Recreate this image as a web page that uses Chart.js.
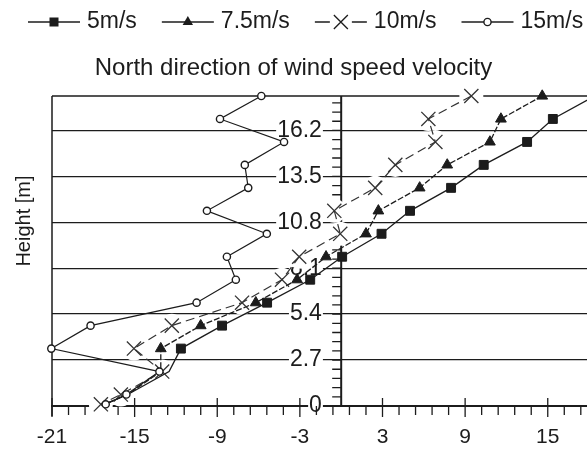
<!DOCTYPE html>
<html><head><meta charset="utf-8">
<script src="https://cdn.jsdelivr.net/npm/chart.js@4.4.1/dist/chart.umd.min.js"></script>
<style>html,body{margin:0;padding:0;background:#fff;overflow:hidden}#wrap{width:587px;height:451px}</style>
</head><body><div id="wrap"><canvas id="c" width="587" height="451"></canvas></div>
<script>
// ---- data ----
const heights = [18.225, 16.875, 15.525, 14.175, 12.825, 11.475, 10.125, 8.775, 7.425, 6.075, 4.725, 3.375, 2.025, 0.675, 0.1];
const v5  = [18.4, 15.37, 13.5, 10.35, 7.98, 5.0, 2.93, 0.07, -2.25, -5.38, -8.65, -11.64, -12.5, -15.5, -17.2];
const v75 = [14.6, 11.6, 10.8, 7.7, 5.7, 2.7, 1.8, -1.1, -3.2, -6.2, -10.2, -13.1, -13.1, -15.5, -17.2];
const v10 = [9.45, 6.33, 6.84, 3.93, 2.47, -0.5, -0.07, -3.05, -4.3, -7.2, -12.3, -15.05, -13.0, -16.0, -17.45];
const v15 = [-5.8, -8.8, -4.15, -7.0, -6.75, -9.75, -5.4, -8.3, -7.65, -10.5, -18.2, -21.05, -13.2, -15.6, -17.1];
const seriesNames = ['5m/s', '7.5m/s', '10m/s', '15m/s'];
const titleText = 'North direction of wind speed velocity';
const yTitle = 'Height [m]';
const xTicks = [-21, -15, -9, -3, 3, 9, 15];
const xTickLabels = ['-21', '-15', '-9', '-3', '3', '9', '15'];
const yTicks = [0, 2.7, 5.4, 8.1, 10.8, 13.5, 16.2];
const yTickLabels = ['0', '2.7', '5.4', '8.1', '10.8', '13.5', '16.2'];

const FONT = "'Liberation Sans', Arial, Helvetica, sans-serif";
const INK = '#1c1c1c';
const mk = (xs) => heights.map((h, i) => ({x: xs[i], y: h}));
const hideLast3 = (r) => heights.map((h, i) => i >= heights.length - 3 ? 0 : r);

const frame = {
  id: 'frame',
  beforeDatasetsDraw(chart) {
    const {ctx, chartArea: a, scales: {x, y}} = chart;
    const x0 = x.getPixelForValue(0);
    ctx.save();
    ctx.strokeStyle = INK;
    ctx.lineWidth = 1.5;
    ctx.beginPath();
    ctx.moveTo(a.left, a.top); ctx.lineTo(a.right, a.top);
    ctx.moveTo(a.left, a.top); ctx.lineTo(a.left, a.bottom + 10);
    ctx.stroke();
    ctx.lineWidth = 2;
    ctx.beginPath();
    ctx.moveTo(x0, a.top); ctx.lineTo(x0, a.bottom);
    ctx.stroke();
    ctx.lineWidth = 1.3;
    ctx.beginPath();
    for (let k = 0; k <= 33; k++) {
      const v = -21 + k * 1.2;
      const px = x.getPixelForValue(v);
      if (px > a.right) break;
      ctx.moveTo(px, a.bottom); ctx.lineTo(px, a.bottom + 9);
    }
    xTicks.forEach(v => {
      const px = x.getPixelForValue(v);
      ctx.moveTo(px, a.bottom - 8); ctx.lineTo(px, a.bottom + 11);
    });
    for (let k = 0; k <= 34; k++) {
      const v = k * 0.54;
      const py = y.getPixelForValue(v);
      if (py < a.top) break;
      ctx.moveTo(x0, py); ctx.lineTo(x0 - 9, py);
    }
    ctx.stroke();
    ctx.restore();
  },
  afterDraw(chart) {
    const ctx = chart.ctx;
    const ds = chart.data.datasets;
    const order = [3, 2, 1, 0];
    const ly = 22;
    let cx = 28;
    ctx.save();
    // y axis title
    ctx.font = '20px ' + FONT;
    ctx.fillStyle = INK;
    ctx.textAlign = 'center';
    ctx.textBaseline = 'middle';
    ctx.translate(24, 221);
    ctx.rotate(-Math.PI / 2);
    ctx.fillText(yTitle, 0, 0);
    ctx.setTransform(1, 0, 0, 1, 0, 0);
    // legend
    ctx.font = '23px ' + FONT;
    ctx.textBaseline = 'middle';
    order.forEach((di, n) => {
      const d = ds[di];
      const L = 52, mid = cx + L / 2;
      ctx.strokeStyle = INK; ctx.lineWidth = 1.3;
      ctx.beginPath();
      if (d.pointStyle === 'crossRot') {
        ctx.moveTo(cx, ly); ctx.lineTo(mid - 11, ly);
        ctx.moveTo(mid + 11, ly); ctx.lineTo(cx + L, ly);
      } else {
        ctx.moveTo(cx, ly); ctx.lineTo(cx + L, ly);
      }
      ctx.stroke();
      ctx.beginPath();
      if (d.pointStyle === 'rect') {
        ctx.fillRect(mid - 4.5, ly - 4.5, 9, 9);
      } else if (d.pointStyle === 'triangle') {
        ctx.moveTo(mid, ly - 6); ctx.lineTo(mid + 5.2, ly + 3); ctx.lineTo(mid - 5.2, ly + 3); ctx.closePath(); ctx.fill();
      } else if (d.pointStyle === 'crossRot') {
        ctx.moveTo(mid - 7, ly - 7); ctx.lineTo(mid + 7, ly + 7);
        ctx.moveTo(mid + 7, ly - 7); ctx.lineTo(mid - 7, ly + 7);
        ctx.stroke();
      } else {
        ctx.fillStyle = '#fff';
        ctx.arc(mid, ly, 3.6, 0, Math.PI * 2); ctx.fill(); ctx.lineWidth = 1.4; ctx.stroke();
      }
      ctx.fillStyle = INK;
      ctx.textAlign = 'left';
      const tx = cx + L + 7;
      ctx.fillText(seriesNames[n], tx, ly);
      cx = tx + ctx.measureText(seriesNames[n]).width + 25;
    });
    ctx.restore();
  }
};

new Chart(document.getElementById('c'), {
  type: 'line',
  data: {
    datasets: [
      {label: seriesNames[3], data: mk(v15), borderColor: INK, borderWidth: 1.2, pointStyle: 'circle', pointRadius: 3.6,
       pointBorderWidth: 1.4, pointBackgroundColor: '#fff', pointBorderColor: INK, clip: false, yAxisID: 'y'},
      {label: seriesNames[2], data: mk(v10), borderColor: '#333', borderWidth: 1.2, borderDash: [9, 5], pointStyle: 'crossRot',
       pointRadius: 10, pointBorderWidth: 1.3, pointBorderColor: '#333', pointBackgroundColor: '#333', clip: false, yAxisID: 'y'},
      {label: seriesNames[1], data: mk(v75), borderColor: INK, borderWidth: 1.3, borderDash: [6, 2], pointStyle: 'triangle',
       pointRadius: hideLast3(6.2), pointBorderWidth: 1, pointBackgroundColor: INK, pointBorderColor: INK, clip: false, yAxisID: 'y'},
      {label: seriesNames[0], data: mk(v5), borderColor: INK, borderWidth: 1.3, pointStyle: 'rect',
       pointRadius: hideLast3(6.3), pointBorderWidth: 1, pointBackgroundColor: INK, pointBorderColor: INK, clip: false, yAxisID: 'y'},
      {label: 'halo', data: mk(v10), showLine: false, pointStyle: 'circle', pointRadius: 12, pointBorderWidth: 0,
       pointBackgroundColor: '#fff', pointBorderColor: '#fff', clip: false, yAxisID: 'y'}
    ]
  },
  options: {
    responsive: false, animation: false, events: [],
    layout: {autoPadding: false, padding: {left: 0, right: 0, top: 0, bottom: 0}},
    elements: {line: {tension: 0}},
    plugins: {
      legend: {display: false}, tooltip: {enabled: false},
      title: {display: true, text: titleText, color: INK, font: {family: FONT, size: 24, weight: 'normal'},
              padding: {top: 53.6, bottom: 13.6}}
    },
    scales: {
      x: {
        type: 'linear', position: 'bottom', min: -21, max: 17.85,
        grid: {display: true, drawOnChartArea: false, drawTicks: true, tickLength: 19,
               color: 'rgba(0,0,0,0)', tickColor: 'rgba(0,0,0,0)'},
        border: {display: true, color: INK, width: 2},
        afterBuildTicks: (s) => { s.ticks = xTicks.map(v => ({value: v})); },
        afterFit: (s) => { s.height = 45; },
        ticks: {color: INK, font: {family: FONT, size: 21}, padding: 0, maxRotation: 0,
                callback: (v, i) => xTickLabels[i]}
      },
      y: {
        type: 'linear', position: {x: -1.4}, min: 0, max: 18.225,
        grid: {color: INK, lineWidth: 1.3, drawTicks: false},
        border: {display: false},
        afterBuildTicks: (s) => { s.ticks = yTicks.map(v => ({value: v})); },
        ticks: {color: INK, font: {family: FONT, size: 23}, padding: 0, showLabelBackdrop: true,
                backdropColor: '#fff', backdropPadding: 1, callback: (v, i) => yTickLabels[i]}
      },
      yL: {
        type: 'linear', position: 'left', min: 0, max: 18.225,
        grid: {display: false, drawTicks: false}, border: {display: false},
        ticks: {display: false},
        afterFit: (s) => { s.width = 52; }
      }
    }
  },
  plugins: [frame]
});
</script>
</body></html>
